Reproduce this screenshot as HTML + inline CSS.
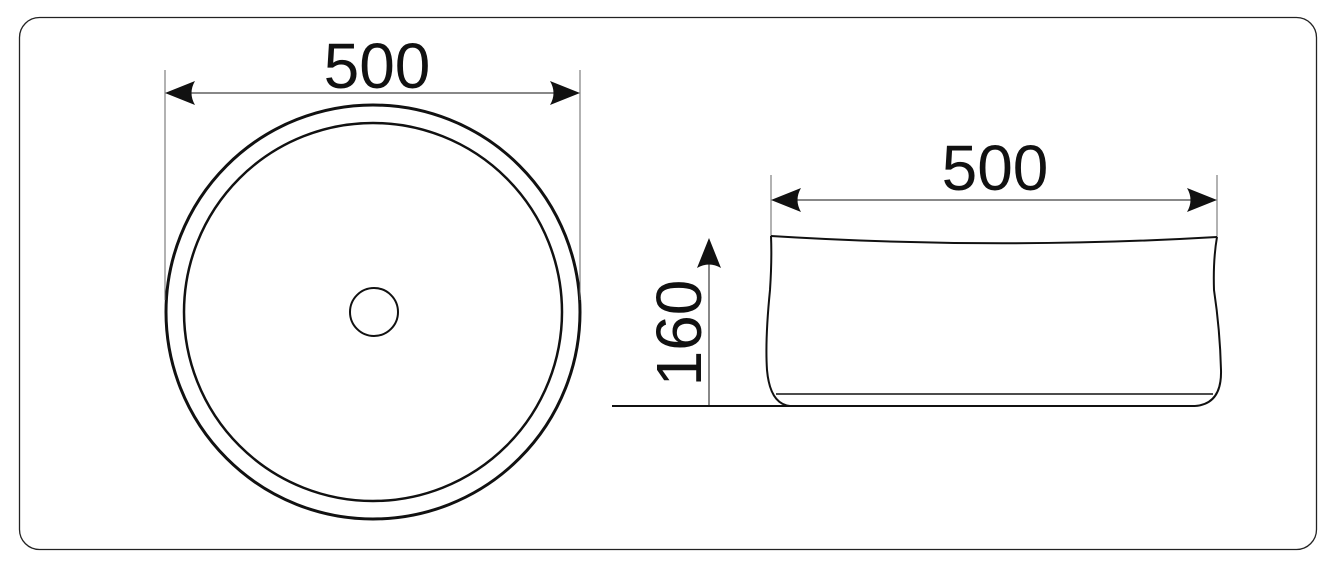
<!DOCTYPE html>
<html><head><style>html,body{margin:0;padding:0;background:#fff}</style></head><body>
<svg width="1335" height="567" viewBox="0 0 1335 567" xmlns="http://www.w3.org/2000/svg">
<rect x="19.5" y="17.5" width="1297" height="532" rx="20" fill="none" stroke="#222" stroke-width="1.3"/>
<g fill="none" stroke="#111">
<circle cx="373" cy="312" r="207" stroke-width="3"/>
<circle cx="373" cy="312" r="189" stroke-width="2.5"/>
<circle cx="374" cy="312" r="24" stroke-width="2"/>
<line x1="165" y1="70" x2="165" y2="300" stroke-width="1" stroke="#666"/>
<line x1="580" y1="70" x2="580" y2="300" stroke-width="1" stroke="#666"/>
<line x1="180" y1="93" x2="565" y2="93" stroke-width="1"/>
<line x1="771" y1="175" x2="771" y2="240" stroke-width="1" stroke="#666"/>
<line x1="1217" y1="175" x2="1217" y2="240" stroke-width="1" stroke="#666"/>
<line x1="785" y1="200" x2="1203" y2="200" stroke-width="1"/>
<line x1="612" y1="406" x2="1195" y2="406" stroke-width="2"/>
<line x1="709" y1="406" x2="709" y2="262" stroke-width="1"/>
<path d="M771,236 Q995,250 1217,237" stroke-width="2"/>
<path d="M771,236 Q772,260 770,290 Q765,340 767,370 Q770,404 790,406" stroke-width="2"/>
<path d="M1217,237 Q1213,260 1214,290 Q1220,330 1221,370 Q1222,404 1195,406" stroke-width="2"/>
<line x1="776" y1="394" x2="1213" y2="394" stroke-width="1.5"/>
</g>
<g fill="#111">
<path d="M165,93 L195,81 Q188,93 195,105 Z"/>
<path d="M580,93 L550,81 Q557,93 550,105 Z"/>
<path d="M771,200 L801,188 Q794,200 801,212 Z"/>
<path d="M1217,200 L1187,188 Q1194,200 1187,212 Z"/>
<path d="M709,238 L697,268 Q709,261 721,268 Z"/>
</g>
<g font-family="Liberation Sans, sans-serif" font-size="64" fill="#111" text-anchor="middle">
<text x="377" y="88">500</text>
<text x="995" y="190">500</text>
<text transform="translate(701,333) rotate(-90)">160</text>
</g>
</svg>
</body></html>
